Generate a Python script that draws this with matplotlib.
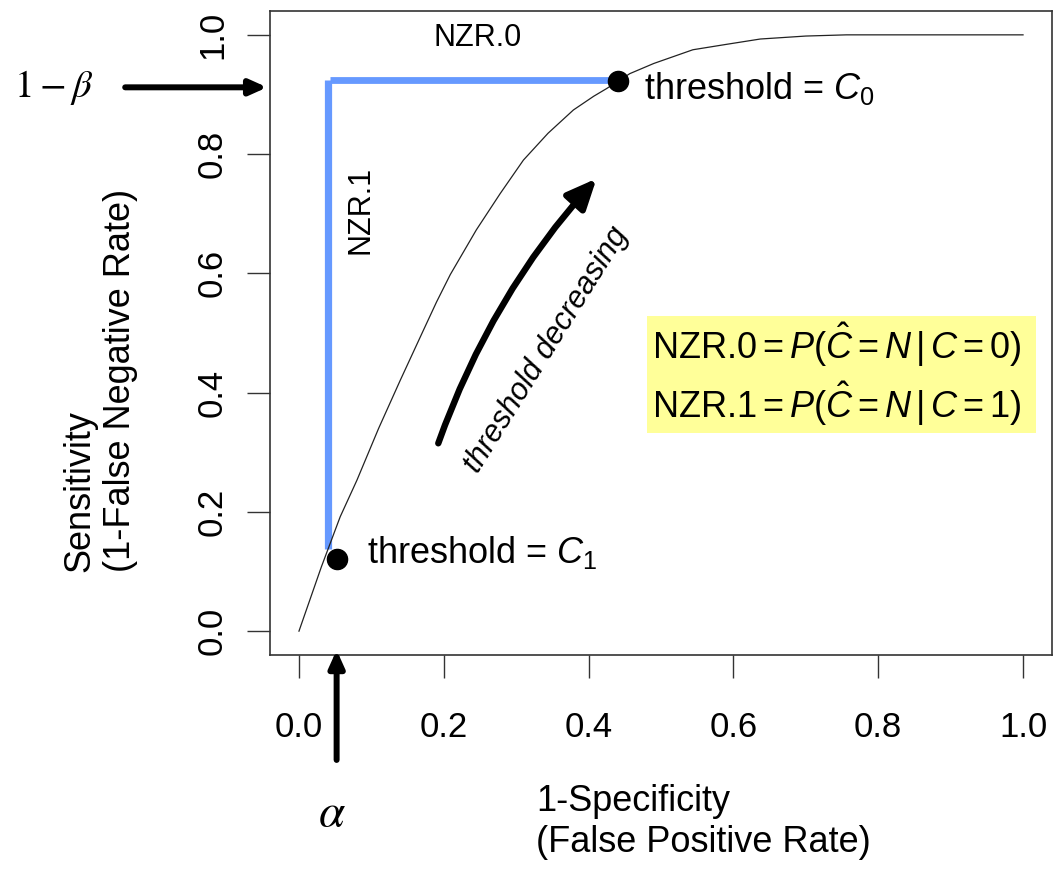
import matplotlib
matplotlib.use("Agg")
import matplotlib.pyplot as plt
from matplotlib.patches import Rectangle

plt.rcParams['font.family'] = ['Liberation Sans', 'DejaVu Sans']
plt.rcParams['mathtext.fontset'] = 'custom'
plt.rcParams['mathtext.rm'] = 'Liberation Sans'
plt.rcParams['mathtext.it'] = 'Liberation Sans:italic'
plt.rcParams['mathtext.bf'] = 'Liberation Sans:bold'

# ROC curve (false positive rate vs sensitivity)
fpr = [0, 0.031, 0.057, 0.080, 0.110, 0.140, 0.172, 0.190, 0.209, 0.245,
       0.278, 0.310, 0.344, 0.379, 0.407, 0.425, 0.457, 0.490, 0.544, 0.590,
       0.637, 0.700, 0.756, 1.0]
tpr = [0, 0.108, 0.192, 0.253, 0.340, 0.421, 0.505, 0.552, 0.598, 0.673,
       0.734, 0.790, 0.835, 0.874, 0.897, 0.910, 0.935, 0.952, 0.975, 0.984,
       0.993, 0.998, 1.0, 1.0]

# operating points for the two thresholds
thr_fpr = [0.441, 0.0525]     # C0, C1
thr_tpr = [0.922, 0.121]
thr_names = ['$C_0$', '$C_1$']

# NZR segments: alpha on the x axis, 1-beta on the y axis
alpha_x = 0.040
beta_y = 0.924
nzr1_bottom = 0.138

ticks = [0.0, 0.2, 0.4, 0.6, 0.8, 1.0]
tick_labels = ['0.0', '0.2', '0.4', '0.6', '0.8', '1.0']

blue = '#6699ff'
axis_grey = '#333333'

fig = plt.figure(figsize=(10.53, 8.71), dpi=100)
ax = fig.add_axes([270 / 1053, 216 / 871, 782 / 1053, 644 / 871])
ax.set_xlim(-0.04, 1.04)
ax.set_ylim(-0.04, 1.04)

ax.plot(fpr, tpr, color='#222222', lw=0.9, zorder=3)

# NZR.1 (vertical) and NZR.0 (horizontal)
ax.plot([alpha_x, alpha_x], [nzr1_bottom, beta_y], color=blue, lw=5.2,
        solid_capstyle='butt', zorder=2)
ax.plot([alpha_x + 0.003, thr_fpr[0]], [beta_y, beta_y], color=blue, lw=4.9,
        solid_capstyle='butt', zorder=2)

ax.plot(thr_fpr, thr_tpr, 'o', color='black', markersize=14.5, zorder=4)

ax.text(0.477, 0.893, 'threshold = ' + thr_names[0], fontsize=26,
        va='baseline', ha='left')
ax.text(0.094, 0.114, 'threshold = ' + thr_names[1], fontsize=26,
        va='baseline', ha='left')

ax.text(0.247, 0.995, 'NZR.0', fontsize=22, ha='center', va='center')
ax.text(0.0856, 0.707, 'NZR.1', fontsize=22, ha='center', va='center',
        rotation=90)

# threshold decreasing arrow
ax.annotate('', xy=(0.411, 0.759), xytext=(0.1924, 0.315),
            arrowprops=dict(arrowstyle='-|>,head_length=1.8,head_width=0.8',
                            mutation_scale=10, lw=4.6, color='black',
                            shrinkA=0, shrinkB=0,
                            connectionstyle='arc3,rad=-0.1'))
ax.text(0.342, 0.471, 'threshold decreasing', fontsize=22, style='italic',
        rotation=58, ha='center', va='center', rotation_mode='anchor')

# definition box
ax.add_patch(Rectangle((0.480, 0.3327), 0.538, 0.1957, facecolor='#ffff99',
                       edgecolor='none', zorder=1, clip_on=False))
ax.text(0.4876, 0.456, r'NZR.0$=P(\hat{C}=N\,|\,C=0)$',
        fontsize=26, va='baseline', ha='left', zorder=5)
ax.text(0.4876, 0.357, r'NZR.1$=P(\hat{C}=N\,|\,C=1)$',
        fontsize=26, va='baseline', ha='left', zorder=5)

# 1-beta and alpha pointers outside the axes
ax.annotate('', xy=(-0.044, 0.912), xytext=(-0.240, 0.912),
            arrowprops=dict(arrowstyle='-|>,head_length=1.0,head_width=0.45',
                            mutation_scale=10, lw=4.3, color='black',
                            shrinkA=0, shrinkB=0),
            annotation_clip=False)
ax.text(-0.339, 0.896, r'$1-\beta$', fontsize=28, ha='center', va='baseline',
        math_fontfamily='stix', clip_on=False)

ax.annotate('', xy=(0.052, -0.0317), xytext=(0.052, -0.216),
            arrowprops=dict(arrowstyle='-|>,head_length=1.0,head_width=0.45',
                            mutation_scale=10, lw=4.3, color='black',
                            shrinkA=0, shrinkB=0),
            annotation_clip=False)
ax.text(0.0456, -0.307, r'$\alpha$', fontsize=34, ha='center', va='center',
        math_fontfamily='stix', clip_on=False)

# axis titles
ax.text(0.328, -0.257, '1-Specificity\n(False Positive Rate)', fontsize=26,
        ha='left', va='top', multialignment='left', clip_on=False)
ax.text(-0.274, 0.100, 'Sensitivity\n(1-False Negative Rate)', fontsize=26,
        ha='center', va='bottom', rotation=90, multialignment='left',
        clip_on=False)

ax.set_xticks(ticks)
ax.set_xticklabels(tick_labels)
ax.set_yticks(ticks)
ax.set_yticklabels(tick_labels, rotation=90, va='center')
ax.tick_params(axis='both', direction='out', length=16.5, width=1.0,
               color=axis_grey, labelsize=25)
ax.tick_params(axis='x', pad=24)
ax.tick_params(axis='y', pad=13)
for sp in ax.spines.values():
    sp.set_color(axis_grey)
    sp.set_linewidth(1.2)

fig.savefig('out.png', dpi=100)
